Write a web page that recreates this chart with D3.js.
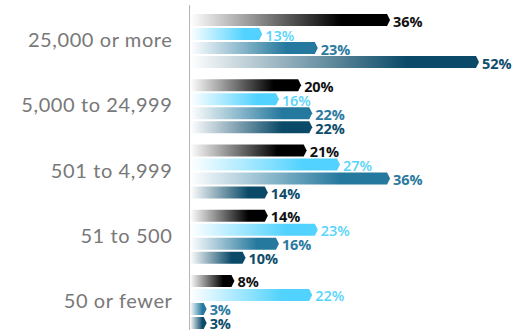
<!DOCTYPE html>
<html>
<head>
<meta charset="utf-8">
<script src="https://cdn.jsdelivr.net/npm/d3@7"></script>
<style>
  html, body { margin: 0; padding: 0; background: #fff; }
  svg { display: block; }
</style>
</head>
<body>
<svg id="chart" width="512" height="330"></svg>
<script>
// Organization size groups (top to bottom)
const categories = ["25,000 or more", "5,000 to 24,999", "501 to 4,999", "51 to 500", "50 or fewer"];
// Four series per group, values in percent
const seriesA = [36, 20, 21, 14, 8];
const seriesB = [13, 16, 27, 23, 22];
const seriesC = [23, 22, 36, 16, 3];
const seriesD = [52, 22, 14, 10, 3];
const seriesKeys = ["a", "b", "c", "d"];
const seriesColors = ["#000000", "#52d3ff", "#26799e", "#0a4a68"];
const labelColors = ["#111111", "#55d4fb", "#2b7aa0", "#0d4c6a"];

const svg = d3.select("#chart");
const W = 512, H = 330;

const rows = categories.map((c, i) => ({
  cat: c,
  vals: [seriesA[i], seriesB[i], seriesC[i], seriesD[i]]
}));

const x = d3.scaleLinear().domain([0, 52]).range([190, 479]);
const y0 = d3.scaleBand().domain(categories).range([14, 329]).paddingInner(0.1724).paddingOuter(0);
const y1 = d3.scaleBand().domain(seriesKeys).range([0, y0.bandwidth()]).paddingInner(0.143).paddingOuter(0);

// Gradients: fade from white at the base to the full colour
const defs = svg.append("defs");
seriesColors.forEach((c, i) => {
  const g = defs.append("linearGradient")
    .attr("id", "grad" + i)
    .attr("gradientUnits", "objectBoundingBox")
    .attr("x1", 0).attr("x2", 1).attr("y1", 0).attr("y2", 0);
  g.append("stop").attr("offset", "0%").attr("stop-color", c).attr("stop-opacity", 0);
  g.append("stop").attr("offset", "75%").attr("stop-color", c).attr("stop-opacity", 1);
  g.append("stop").attr("offset", "100%").attr("stop-color", c).attr("stop-opacity", 1);
});

// Vertical baseline
svg.append("line")
  .attr("x1", 189.5).attr("x2", 189.5)
  .attr("y1", 5).attr("y2", H)
  .attr("stroke", "#b5b5b5").attr("stroke-width", 1);

// Category labels
svg.append("g").selectAll("text")
  .data(rows)
  .join("text")
  .attr("x", 172.5)
  .attr("y", d => y0(d.cat) + y0.bandwidth() / 2 - 2)
  .attr("text-anchor", "end")
  .attr("dominant-baseline", "central")
  .attr("font-family", "Lato, 'Open Sans', sans-serif")
  .attr("font-size", 20)
  .attr("letter-spacing", 0.6)
  .attr("fill", "#787878")
  .text(d => d.cat);

// Bars with a pointed right end
function arrowPath(x0, x1, top, h) {
  const tip = Math.min(3, Math.max(0, x1 - x0));
  return `M${x0},${top}H${x1 - tip}L${x1},${top + h / 2}L${x1 - tip},${top + h}H${x0}Z`;
}

const groups = svg.append("g").selectAll("g")
  .data(rows)
  .join("g")
  .attr("transform", d => `translate(0,${y0(d.cat)})`);

groups.selectAll("path")
  .data(d => d.vals.map((v, i) => ({ v, i })))
  .join("path")
  .attr("d", d => arrowPath(x(0), x(d.v), y1(seriesKeys[d.i]), y1.bandwidth()))
  .attr("fill", d => `url(#grad${d.i})`);

groups.selectAll("text")
  .data(d => d.vals.map((v, i) => ({ v, i })))
  .join("text")
  .attr("x", d => x(d.v) + 3)
  .attr("y", d => y1(seriesKeys[d.i]) + y1.bandwidth() / 2 + 1)
  .attr("dominant-baseline", "central")
  .attr("font-family", "'Open Sans', sans-serif")
  .attr("font-weight", d => d.i === 1 ? 600 : 700)
  .attr("font-size", 14.5)
  .attr("letter-spacing", -0.1)
  .attr("fill", d => labelColors[d.i])
  .text(d => d.v + "%");
</script>
</body>
</html>
